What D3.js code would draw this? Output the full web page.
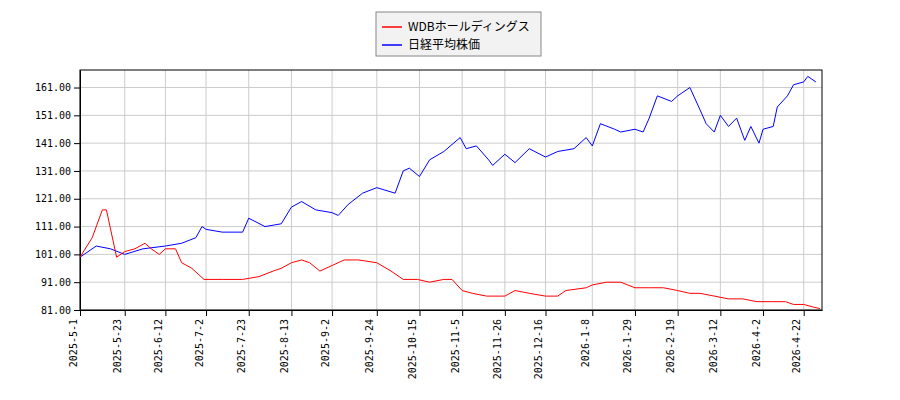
<!DOCTYPE html><html><head><meta charset="utf-8"><script src="https://cdn.jsdelivr.net/npm/d3@7"></script>
<style>body{margin:0;background:#fff}text{font-family:"DejaVu Sans",sans-serif}</style></head><body><svg id="c" width="900" height="400"></svg><script>
const yTicks=[81,91,101,111,121,131,141,151,161];
const xTickLabels=["2025-5-1","2025-5-23","2025-6-12","2025-7-2","2025-7-23","2025-8-13","2025-9-2","2025-9-24","2025-10-15","2025-11-5","2025-11-26","2025-12-16","2026-1-8","2026-1-29","2026-2-19","2026-3-12","2026-4-2","2026-4-22"];
const nikkeiDates=["2025-5-1","2025-5-9","2025-5-16","2025-5-23","2025-6-1","2025-6-12","2025-6-20","2025-6-27","2025-6-30","2025-7-2","2025-7-10","2025-7-20","2025-7-23","2025-7-31","2025-8-8","2025-8-13","2025-8-18","2025-8-25","2025-9-2","2025-9-5","2025-9-10","2025-9-17","2025-9-24","2025-10-3","2025-10-7","2025-10-10","2025-10-15","2025-10-20","2025-10-27","2025-11-4","2025-11-7","2025-11-12","2025-11-18","2025-11-20","2025-11-26","2025-12-1","2025-12-8","2025-12-16","2025-12-22","2025-12-30","2026-1-5","2026-1-8","2026-1-12","2026-1-19","2026-1-22","2026-1-29","2026-2-2","2026-2-5","2026-2-9","2026-2-16","2026-2-19","2026-2-25","2026-3-2","2026-3-5","2026-3-9","2026-3-12","2026-3-16","2026-3-20","2026-3-24","2026-3-27","2026-3-31","2026-4-2","2026-4-7","2026-4-9","2026-4-14","2026-4-17","2026-4-22","2026-4-24","2026-4-28"];
const nikkeiVals=[100,104,103,101,103,104,105,107,111,110,109,109,114,111,112,118,120,117,116,115,119,123,125,123,131,132,129,135,138,143,139,140,135,133,137,134,139,136,138,139,143,140,148,146,145,146,145,150,158,156,158,161,153,148,145,151,147,150,142,147,141,146,147,154,158,162,163,165,163];
const wdbDates=["2025-5-1","2025-5-7","2025-5-12","2025-5-14","2025-5-19","2025-5-23","2025-5-28","2025-6-2","2025-6-5","2025-6-9","2025-6-12","2025-6-17","2025-6-20","2025-6-25","2025-7-1","2025-7-10","2025-7-20","2025-7-28","2025-8-4","2025-8-8","2025-8-13","2025-8-18","2025-8-22","2025-8-27","2025-9-2","2025-9-8","2025-9-15","2025-9-24","2025-10-1","2025-10-7","2025-10-14","2025-10-20","2025-10-27","2025-10-31","2025-11-5","2025-11-10","2025-11-17","2025-11-26","2025-12-1","2025-12-8","2025-12-16","2025-12-22","2025-12-26","2026-1-5","2026-1-8","2026-1-15","2026-1-22","2026-1-29","2026-2-5","2026-2-12","2026-2-19","2026-2-25","2026-3-2","2026-3-9","2026-3-16","2026-3-23","2026-3-30","2026-4-6","2026-4-13","2026-4-17","2026-4-22","2026-4-27","2026-4-30"];
const wdbVals=[100,107,117,117,100,102,103,105,103,101,103,103,98,96,92,92,92,93,95,96,98,99,98,95,97,99,99,98,95,92,92,91,92,92,88,87,86,86,88,87,86,86,88,89,90,91,91,89,89,89,88,87,87,86,85,85,84,84,84,83,83,82,81.5];
const pd=s=>{const [a,b,c]=s.split("-");return new Date(+a,+b-1,+c);};
const svg=d3.select("#c");
const L=80,R=822,T=70,B=310;
const x=d3.scaleTime().domain([pd("2025-5-1"),pd("2026-5-1")]).range([L,R]);
const y=d3.scaleLinear().domain([81,167.3]).range([B,T]);
const g=svg.append("g");
xTickLabels.forEach(s=>{const d=pd(s);g.append("line").attr("x1",x(d)).attr("x2",x(d)).attr("y1",T).attr("y2",B).attr("stroke","#ccc");});
yTicks.forEach(v=>g.append("line").attr("x1",L).attr("x2",R).attr("y1",y(v)).attr("y2",y(v)).attr("stroke","#ccc"));
const xa=svg.append("g").attr("transform",`translate(0,${B})`).call(d3.axisBottom(x).tickValues(xTickLabels.map(pd)).tickFormat((d,i)=>xTickLabels[i]).tickSizeOuter(0));
xa.selectAll("text").attr("transform","rotate(-90)").attr("text-anchor","end").attr("dx","-0.5em").attr("dy","-0.4em").attr("x",-4).attr("y",0).style("font-size","10px").style("font-family","'DejaVu Sans Mono',monospace");
const ya=svg.append("g").attr("transform",`translate(${L},0)`).call(d3.axisLeft(y).tickValues(yTicks).tickFormat(d3.format(".2f")).tickSizeOuter(0));
ya.selectAll("text").style("font-size","10px").style("font-family","'DejaVu Sans Mono',monospace");
svg.append("rect").attr("x",L).attr("y",T).attr("width",R-L).attr("height",B-T).attr("fill","none").attr("stroke","#000");
const line=d3.line().x(d=>x(d[0])).y(d=>y(d[1]));
svg.append("path").datum(nikkeiDates.map((d,i)=>[pd(d),nikkeiVals[i]])).attr("d",line).attr("fill","none").attr("stroke","blue").attr("stroke-width",1);
svg.append("path").datum(wdbDates.map((d,i)=>[pd(d),wdbVals[i]])).attr("d",line).attr("fill","none").attr("stroke","red").attr("stroke-width",1);
const lg=svg.append("g");
lg.append("rect").attr("x",376).attr("y",12).attr("width",165).attr("height",44).attr("fill","#f2f2f2").attr("stroke","#888");
[["WDBホールディングス","red",27],["日経平均株価","blue",45]].forEach(([t,c,yy])=>{lg.append("line").attr("x1",382).attr("x2",402).attr("y1",yy).attr("y2",yy).attr("stroke",c).attr("stroke-width",1.5);lg.append("text").attr("x",408).attr("y",yy+4).text(t).style("font-size","12px").style("font-family","'Noto Sans CJK JP',sans-serif");});
</script></body></html>
